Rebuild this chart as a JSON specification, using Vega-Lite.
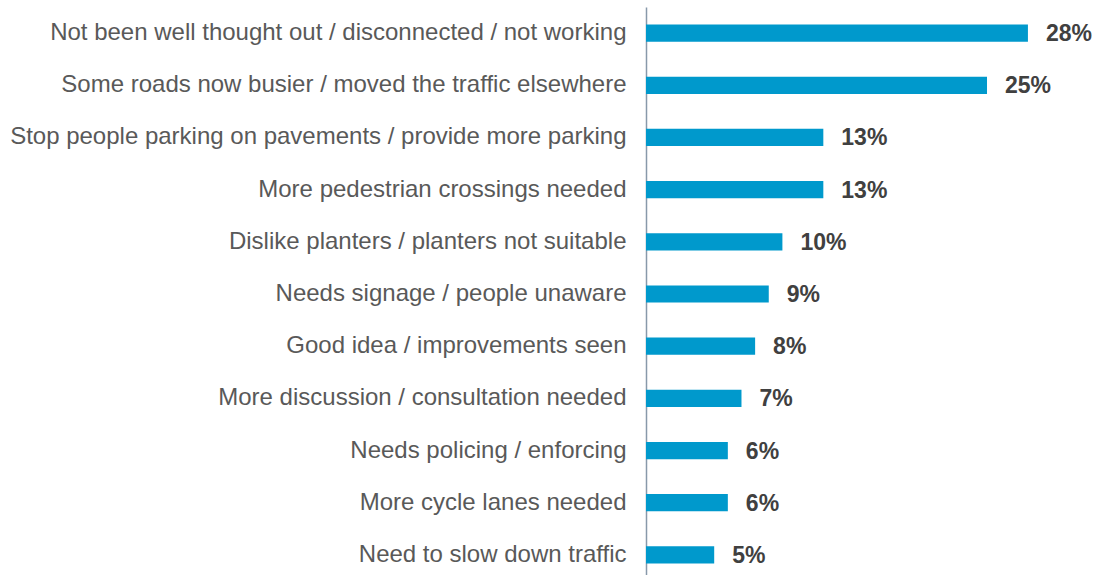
{
  "$schema": "https://vega.github.io/schema/vega-lite/v6.json",
  "autosize": {"type": "none"},
  "width": 459,
  "height": 574,
  "padding": {"left": 646, "top": 7, "right": 0, "bottom": 0},
  "background": "white",
  "config": {"view": {"stroke": null}},
  "data": {"values": [
    {"label": "Not been well thought out / disconnected / not working\u00a0", "value": 0.28},
    {"label": "Some roads now busier / moved the traffic elsewhere", "value": 0.25},
    {"label": "Stop people parking on pavements / provide more parking", "value": 0.13},
    {"label": "More pedestrian crossings needed", "value": 0.13},
    {"label": "Dislike planters / planters not suitable", "value": 0.10},
    {"label": "Needs signage / people unaware", "value": 0.09},
    {"label": "Good idea / improvements seen", "value": 0.08},
    {"label": "More discussion / consultation needed", "value": 0.07},
    {"label": "Needs policing / enforcing", "value": 0.06},
    {"label": "More cycle lanes needed", "value": 0.06},
    {"label": "Need to slow down traffic", "value": 0.05}
  ]},
  "encoding": {
    "y": {
      "field": "label", "type": "nominal", "sort": null,
      "scale": {"paddingInner": 0.67, "paddingOuter": 0.335},
      "axis": {
        "title": null, "ticks": false, "labelPadding": 20, "labelLimit": 700,
        "labelFont": "Liberation Sans", "labelFontSize": 24, "labelColor": "#595959",
        "domainColor": "#8899aa", "domainWidth": 1.5
      }
    },
    "x": {
      "field": "value", "type": "quantitative",
      "scale": {"domain": [0, 0.3365], "nice": false},
      "axis": null
    }
  },
  "layer": [
    {"mark": {"type": "bar", "color": "#0099CC"}},
    {"mark": {"type": "text", "align": "left", "baseline": "middle", "dx": 18, "dy": 1,
      "font": "Liberation Sans", "fontSize": 23, "fontWeight": "bold", "color": "#404040"},
     "encoding": {"text": {"field": "value", "type": "quantitative", "format": ".0%"}}}
  ]
}
